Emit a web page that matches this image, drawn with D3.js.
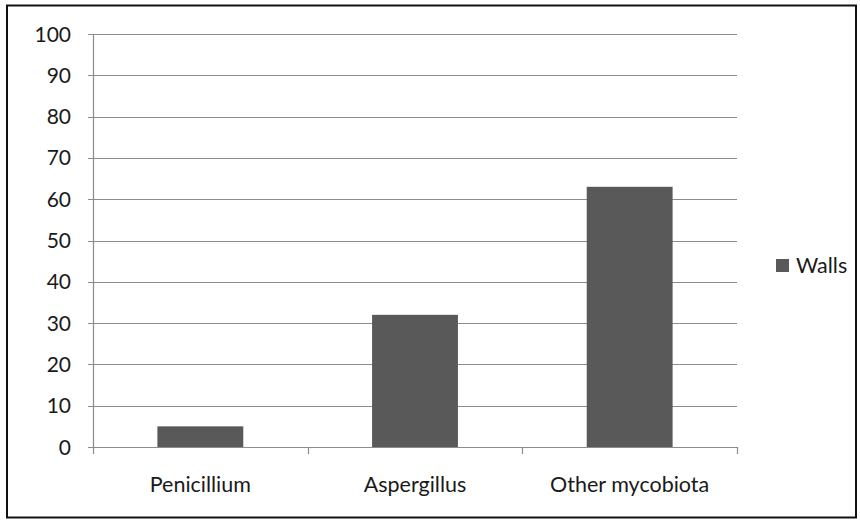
<!DOCTYPE html>
<html><head><meta charset="utf-8">
<script src="https://cdn.jsdelivr.net/npm/d3@7"></script>
<style>body{margin:0;background:#fff}svg{display:block}text{font-family:Lato,"Open Sans",sans-serif;fill:#1a1a1a}</style>
</head><body><svg id="c" width="860" height="522"></svg>
<script>
const categories = ["Penicillium", "Aspergillus", "Other mycobiota"];
const walls = [5, 32, 63];
const yTicks = [0,10,20,30,40,50,60,70,80,90,100];
const seriesName = "Walls";

const svg = d3.select("#c");
svg.append("rect").attr("x",7).attr("y",5.5).attr("width",849).attr("height",512).attr("fill","#fff").attr("stroke","#111").attr("stroke-width",2);
const m={l:93,r:737,t:34,b:447};
const x=d3.scaleBand().domain(categories).range([m.l,m.r]).paddingInner(0.6).paddingOuter(0.3);
const y=d3.scaleLinear().domain([0,100]).range([m.b,m.t]);
const bandX=d3.scaleBand().domain(categories).range([m.l,m.r]);
const g=svg.append("g");
g.selectAll("line.grid").data(yTicks).join("line").attr("x1",88).attr("x2",m.r).attr("y1",d=>Math.round(y(d))+0.5).attr("y2",d=>Math.round(y(d))+0.5).attr("stroke","#8c8c8c").attr("stroke-width",1.2);
g.append("line").attr("x1",m.l+0.5).attr("x2",m.l+0.5).attr("y1",m.t).attr("y2",m.b).attr("stroke","#8c8c8c").attr("stroke-width",1.2);
const bounds=[m.l, ...categories.map(c=>bandX(c)+bandX.bandwidth())];
g.selectAll("line.xt").data(bounds).join("line").attr("x1",d=>Math.round(d)+0.5).attr("x2",d=>Math.round(d)+0.5).attr("y1",m.b).attr("y2",m.b+7).attr("stroke","#8c8c8c").attr("stroke-width",1.2);
g.selectAll("text.yl").data(yTicks).join("text").attr("x",71).attr("y",d=>y(d)).attr("dy","0.36em").attr("text-anchor","end").attr("font-size",21).text(d=>d);
g.selectAll("rect.bar").data(walls).join("rect").attr("x",(d,i)=>x(categories[i])).attr("width",x.bandwidth()).attr("y",d=>y(d)).attr("height",d=>y(0)-y(d)).attr("fill","#595959");
g.selectAll("text.xl").data(categories).join("text").attr("x",d=>bandX(d)+bandX.bandwidth()/2).attr("y",492).attr("text-anchor","middle").attr("font-size",21.5).text(d=>d);
svg.append("rect").attr("x",776).attr("y",259).attr("width",13).attr("height",13).attr("fill","#595959");
svg.append("text").attr("x",796).attr("y",273).attr("font-size",21.5).text(seriesName);
</script></body></html>
